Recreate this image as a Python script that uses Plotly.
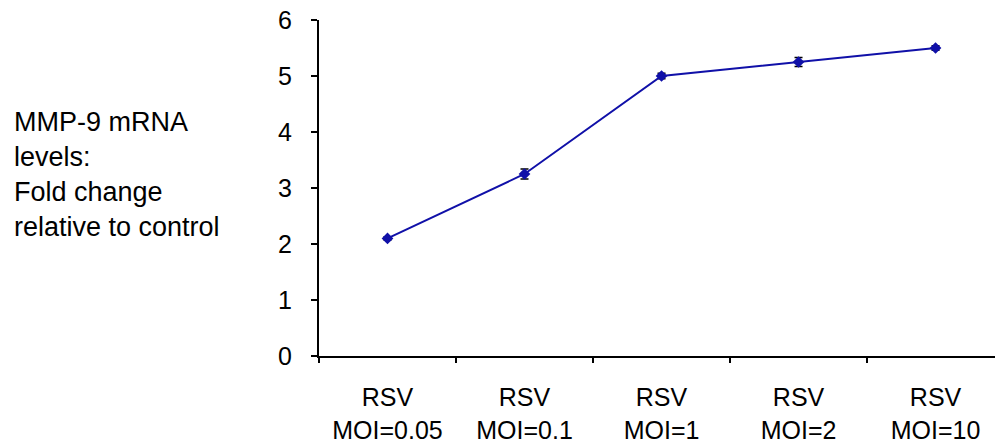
import plotly.graph_objects as go

categories = ["RSV<br>MOI=0.05", "RSV<br>MOI=0.1", "RSV<br>MOI=1", "RSV<br>MOI=2", "RSV<br>MOI=10"]
fold_change = [2.1, 3.25, 5.0, 5.25, 5.5]
error = [0.03, 0.09, 0.05, 0.08, 0.04]
y_ticks = [0, 1, 2, 3, 4, 5, 6]
y_title_lines = ["MMP-9 mRNA", "levels:", "Fold change", "relative to control"]

FONT = "Liberation Sans, Arial, sans-serif"

fig = go.Figure()
fig.add_trace(go.Scatter(
    x=categories, y=fold_change,
    mode="lines+markers",
    line=dict(color="#1010a8", width=2),
    marker=dict(symbol="diamond", size=9, color="#1010a8"),
    error_y=dict(type="data", array=error, visible=True, color="black", thickness=1.5, width=4),
    showlegend=False,
))

fig.update_layout(
    width=995, height=443,
    margin=dict(l=319, r=0, t=20, b=87),
    paper_bgcolor="white", plot_bgcolor="white",
    font=dict(family=FONT, size=25, color="black"),
    xaxis=dict(
        type="category",
        range=[-0.5, 4.434],
        automargin=False,
        showline=True, linecolor="black", linewidth=2,
        ticks="outside", tickson="boundaries", ticklen=5, tickwidth=2, tickcolor="black",
        showgrid=False, zeroline=False,
        tickfont=dict(size=25),
        ticklabelstandoff=18,
    ),
    yaxis=dict(
        range=[0, 6], tickvals=y_ticks,
        automargin=False,
        showline=True, linecolor="black", linewidth=2,
        ticks="outside", ticklen=6, tickwidth=2, tickcolor="black",
        showgrid=False, zeroline=False,
        tickfont=dict(size=25),
        ticklabelstandoff=14,
    ),
    annotations=[dict(
        text="<br>".join(y_title_lines),
        xref="paper", yref="paper",
        x=(12 - 319) / 676, y=0.54,
        xanchor="left", yanchor="middle", align="left",
        showarrow=False,
        font=dict(size=27, family=FONT, color="black"),
    )],
)

fig.write_html("out.html")
